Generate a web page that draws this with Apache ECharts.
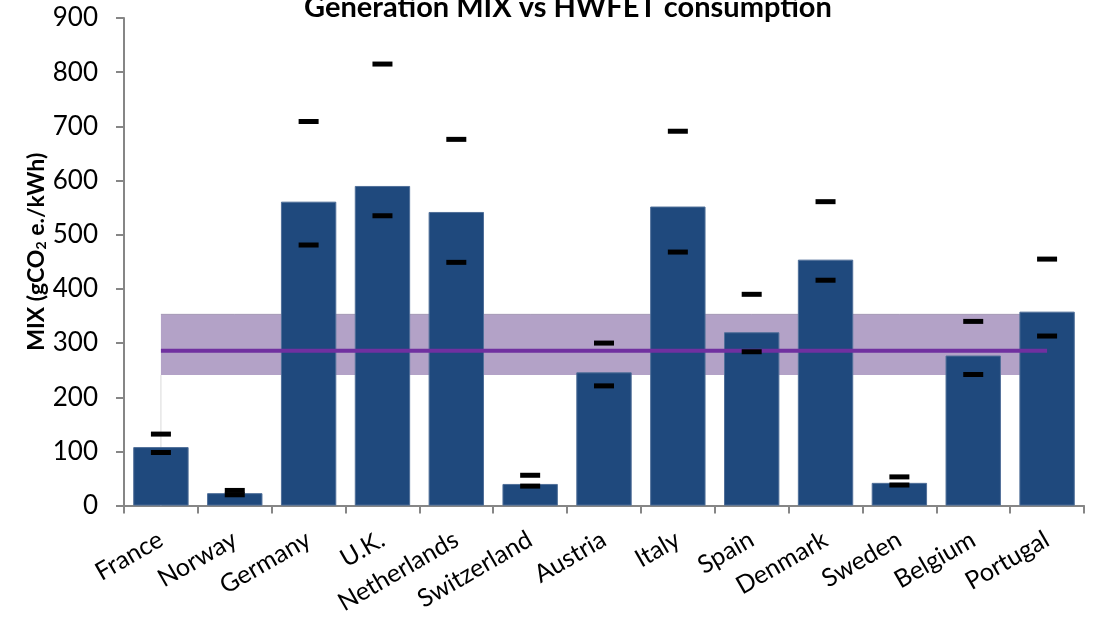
<!DOCTYPE html>
<html>
<head>
<meta charset="utf-8">
<script src="https://cdn.jsdelivr.net/npm/echarts@6/dist/echarts.min.js"></script>
<style>html,body{margin:0;padding:0;background:#fff}#c{width:1102px;height:617px}</style>
</head>
<body>
<div id="c"></div>
<script>
const categories = ['France','Norway','Germany','U.K.','Netherlands','Switzerland','Austria','Italy','Spain','Denmark','Sweden','Belgium','Portugal'];
const mixValues = [108, 23, 561, 590, 542, 40, 246, 552, 320, 454, 42, 277, 358];
const hwfetHigh = [132, 28, 709, 815, 676, 56, 300, 691, 390, 561, 53, 340, 455];
const hwfetLow  = [98, 20, 481, 535, 449, 36, 221, 468, 284, 416, 38, 242, 313];
const bandLow  = [241,241,241,241,241,241,241,241,241,241,241,241,241];
const bandHigh = [353,353,353,353,353,353,353,353,353,353,353,353,353];
const average  = [286,286,286,286,286,286,286,286,286,286,286,286,286];
const yTicks = { min: 0, max: 900, interval: 100 };

const bandWidth = bandHigh.map((v, i) => v - bandLow[i]);
const FONT = 'Lato, "Open Sans", sans-serif';

const chart = echarts.init(document.getElementById('c'), null, { renderer: 'canvas' });
chart.setOption({
  animation: false,
  backgroundColor: '#ffffff',
  title: {
    text: 'Generation MIX vs HWFET consumption',
    left: 563, textAlign: 'center', top: -12,
    textStyle: { fontFamily: FONT, fontSize: 29, fontWeight: 'bold', color: '#000' }
  },
  grid: { left: 124, right: 18, top: 18, bottom: 110, containLabel: false },
  xAxis: {
    type: 'category',
    data: categories,
    boundaryGap: true,
    axisLine: { lineStyle: { color: '#868686', width: 2 } },
    axisTick: { show: true, length: 8, lineStyle: { color: '#868686', width: 2 } },
    axisLabel: { rotate: 30, margin: 32, fontFamily: FONT, fontSize: 25, color: '#000', interval: 0 },
    splitLine: { show: false }
  },
  yAxis: {
    type: 'value',
    min: yTicks.min, max: yTicks.max, interval: yTicks.interval,
    axisLine: { show: true, lineStyle: { color: '#868686', width: 2 } },
    axisTick: { show: true, length: 8, lineStyle: { color: '#868686', width: 2 } },
    axisLabel: { margin: 26, fontFamily: FONT, fontSize: 26, color: '#000' },
    splitLine: { show: false },
    name: '{a|MIX (gCO}{b|2}{a| e./kWh)}',
    nameLocation: 'middle',
    nameRotate: 90,
    nameGap: 76,
    nameMoveOverlap: false,
    nameTextStyle: {
      padding: [0, 0, 0, 20],
      rich: {
        a: { fontFamily: FONT, fontSize: 23, fontWeight: 'bold', color: '#000' },
        b: { fontFamily: FONT, fontSize: 14, fontWeight: 'bold', color: '#000', verticalAlign: 'bottom', padding: [8, 0, 0, 0] }
      }
    }
  },
  series: [
    {
      name: 'bandEdge', type: 'line', z: 0, symbol: 'none', silent: true,
      data: [[categories[0], 0], [categories[0], bandLow[0]]],
      lineStyle: { color: '#d9d9d9', width: 1 }
    },
    {
      name: 'bandLow', type: 'line', stack: 'band', data: bandLow, symbol: 'none', z: 1,
      lineStyle: { opacity: 0 }
    },
    {
      name: 'band', type: 'line', stack: 'band', data: bandWidth, symbol: 'none', z: 1,
      lineStyle: { color: '#a699b7', width: 1 },
      areaStyle: { color: '#b3a2c7', opacity: 1 }
    },
    {
      name: 'MIX', type: 'bar', data: mixValues, z: 2,
      barCategoryGap: '25%',
      itemStyle: { color: '#1f497d', borderColor: '#506f99', borderWidth: 1 }
    },
    {
      name: 'Average', type: 'line', data: average, symbol: 'none', z: 3,
      lineStyle: { color: '#7030a0', width: 4 }
    },
    {
      name: 'HWFET high', type: 'scatter', data: hwfetHigh, z: 4,
      symbol: 'rect', symbolSize: [20, 5], itemStyle: { color: '#000', opacity: 1 }
    },
    {
      name: 'HWFET low', type: 'scatter', data: hwfetLow, z: 4,
      symbol: 'rect', symbolSize: [20, 5], itemStyle: { color: '#000', opacity: 1 }
    }
  ]
});
</script>
</body>
</html>
